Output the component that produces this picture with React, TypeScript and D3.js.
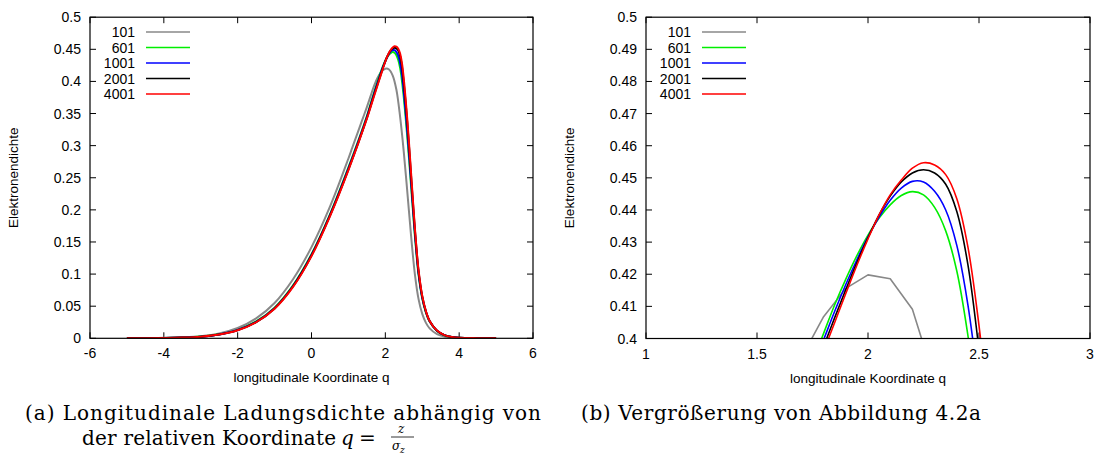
import React from "react";
import * as d3 from "d3";

// ---------- data ----------
const seriesNames = ["101", "601", "1001", "2001", "4001"];
const seriesColors = ["#888888", "#00ee00", "#0000ff", "#000000", "#ff0000"];

// q grid of the fine-sampled series (601, 1001, 2001, 4001)
const qFine = [-5, -4.5, -4, -3.5, -3, -2.5, -2, -1.5, -1, -0.5, 0, 0.5, 1, 1.5, 1.6, 1.7, 1.8, 1.85, 1.9, 1.95, 2.0, 2.05, 2.1, 2.15, 2.2, 2.25, 2.3, 2.35, 2.4, 2.45, 2.5, 2.55, 2.6, 2.65, 2.7, 2.75, 2.8, 2.85, 2.9, 3.0, 3.1, 3.2, 3.4, 3.6, 3.8, 4, 4.5, 5];

const n601 = [0, 0.0002, 0.0005, 0.0012, 0.0027, 0.0062, 0.0132, 0.0262, 0.0478, 0.0825, 0.131, 0.193, 0.266, 0.346, 0.365, 0.3835, 0.4016, 0.4105, 0.4185, 0.4258, 0.4322, 0.4375, 0.4416, 0.4445, 0.4457, 0.4447, 0.4408, 0.4335, 0.421, 0.401, 0.375, 0.344, 0.31, 0.274, 0.235, 0.197, 0.16, 0.127, 0.099, 0.062, 0.04, 0.026, 0.0115, 0.0048, 0.0019, 0.0008, 0.0002, 0];
const n1001 = [0, 0.0002, 0.0005, 0.0012, 0.0026, 0.006, 0.0129, 0.0257, 0.047, 0.0815, 0.1298, 0.1918, 0.2645, 0.3445, 0.363, 0.382, 0.3996, 0.4085, 0.4168, 0.4245, 0.4316, 0.4378, 0.443, 0.4468, 0.4489, 0.4487, 0.4458, 0.44, 0.429, 0.4105, 0.384, 0.352, 0.318, 0.281, 0.241, 0.202, 0.164, 0.13, 0.101, 0.063, 0.041, 0.0265, 0.0118, 0.0049, 0.0019, 0.0008, 0.0002, 0];
const n2001 = [0, 0.0002, 0.0005, 0.0011, 0.0025, 0.0059, 0.0127, 0.0253, 0.0465, 0.081, 0.129, 0.191, 0.263, 0.343, 0.3615, 0.38, 0.3975, 0.4065, 0.4152, 0.4236, 0.4314, 0.4385, 0.4443, 0.4487, 0.4515, 0.4525, 0.4515, 0.448, 0.4395, 0.423, 0.3965, 0.367, 0.331, 0.292, 0.25, 0.209, 0.169, 0.134, 0.104, 0.065, 0.0415, 0.0268, 0.0119, 0.005, 0.002, 0.0008, 0.0002, 0];
const n4001 = [0, 0.0002, 0.0005, 0.0011, 0.0025, 0.0058, 0.0125, 0.025, 0.046, 0.08, 0.128, 0.19, 0.262, 0.342, 0.36, 0.378, 0.396, 0.405, 0.414, 0.4228, 0.431, 0.4385, 0.4447, 0.4493, 0.453, 0.4547, 0.454, 0.451, 0.4435, 0.4285, 0.404, 0.372, 0.337, 0.297, 0.255, 0.213, 0.172, 0.136, 0.106, 0.066, 0.042, 0.027, 0.012, 0.005, 0.002, 0.0008, 0.0002, 0];

// coarse series (101 points, step 0.1 around the peak)
const q101 = [-5, -4.5, -4, -3.5, -3, -2.5, -2, -1.5, -1, -0.5, 0, 0.5, 1, 1.1, 1.2, 1.3, 1.4, 1.5, 1.6, 1.7, 1.8, 1.9, 2.0, 2.1, 2.2, 2.3, 2.4, 2.5, 2.6, 2.7, 2.8, 2.9, 3.0, 3.1, 3.2, 3.4, 3.6, 3.8, 4, 4.5, 5];
const n101 = [0, 0.0003, 0.0007, 0.0015, 0.0033, 0.0075, 0.016, 0.031, 0.055, 0.092, 0.142, 0.205, 0.28, 0.296, 0.312, 0.328, 0.344, 0.36, 0.377, 0.394, 0.4068, 0.4156, 0.4198, 0.4186, 0.4091, 0.387, 0.345, 0.29, 0.225, 0.158, 0.1, 0.061, 0.038, 0.024, 0.0155, 0.0065, 0.0027, 0.0011, 0.0005, 0.0001, 0];

const seriesQ = [q101, qFine, qFine, qFine, qFine];
const seriesV = [n101, n601, n1001, n2001, n4001];

// ticks
const xTicksA = [-6, -4, -2, 0, 2, 4, 6];
const yTicksA = [0, 0.05, 0.1, 0.15, 0.2, 0.25, 0.3, 0.35, 0.4, 0.45, 0.5];
const xTicksB = [1, 1.5, 2, 2.5, 3];
const yTicksB = [0.4, 0.41, 0.42, 0.43, 0.44, 0.45, 0.46, 0.47, 0.48, 0.49, 0.5];

const xLabel = "longitudinale Koordinate q";
const yLabel = "Elektronendichte";

const captionA1 = "(a) Longitudinale Ladungsdichte abhängig von";
const captionA2 = "der relativen Koordinate";
const captionB = "(b) Vergrößerung von Abbildung 4.2a";

const SANS = "'Liberation Sans', Arial, Helvetica, sans-serif";
const SERIF = "'DejaVu Serif', serif";

type PanelProps = {
  id: string;
  left: number;
  right: number;
  top: number;
  bottom: number;
  xDomain: [number, number];
  yDomain: [number, number];
  xTicks: number[];
  yTicks: number[];
  lineWidth: number;
  grayLinear: boolean;
};

function fmt(v: number) {
  return String(+v.toFixed(3));
}

function Panel(p: PanelProps) {
  const x = d3.scaleLinear().domain(p.xDomain).range([p.left, p.right]);
  const y = d3.scaleLinear().domain(p.yDomain).range([p.bottom, p.top]);
  const tick = 6;
  const paths = seriesNames.map((name, i) => {
    const pts: [number, number][] = seriesQ[i].map((q, j) => [q, seriesV[i][j]]);
    const gen = d3
      .line<[number, number]>()
      .x((d) => x(d[0]))
      .y((d) => y(d[1]))
      .curve(i === 0 && p.grayLinear ? d3.curveLinear : d3.curveCatmullRom.alpha(0.5));
    return (
      <path
        key={name}
        d={gen(pts) || ""}
        fill="none"
        stroke={seriesColors[i]}
        strokeWidth={p.lineWidth}
        strokeLinejoin="round"
      />
    );
  });
  const legendTextX = p.left + 45;
  return (
    <g>
      <defs>
        <clipPath id={p.id}>
          <rect x={p.left} y={p.top} width={p.right - p.left} height={p.bottom - p.top} />
        </clipPath>
      </defs>
      {p.xTicks.map((t) => (
        <g key={"x" + t}>
          <line x1={x(t)} x2={x(t)} y1={p.bottom} y2={p.bottom - tick} stroke="#000" strokeWidth={1} />
          <line x1={x(t)} x2={x(t)} y1={p.top} y2={p.top + tick} stroke="#000" strokeWidth={1} />
          <text x={x(t)} y={p.bottom + 20} fontFamily={SANS} fontSize={14} textAnchor="middle">
            {fmt(t)}
          </text>
        </g>
      ))}
      {p.yTicks.map((t) => (
        <g key={"y" + t}>
          <line x1={p.left} x2={p.left + tick} y1={y(t)} y2={y(t)} stroke="#000" strokeWidth={1} />
          <line x1={p.right} x2={p.right - tick} y1={y(t)} y2={y(t)} stroke="#000" strokeWidth={1} />
          <text x={p.left - 9} y={y(t) + 5} fontFamily={SANS} fontSize={14} textAnchor="end">
            {fmt(t)}
          </text>
        </g>
      ))}
      {seriesNames.map((name, i) => {
        const ly = 32 + i * 15.5;
        return (
          <g key={"leg" + name}>
            <text x={legendTextX} y={ly + 5} fontFamily={SANS} fontSize={14} textAnchor="end">
              {name}
            </text>
            <line x1={p.left + 56} x2={p.left + 100} y1={ly} y2={ly} stroke={seriesColors[i]} strokeWidth={1.5} />
          </g>
        );
      })}
      <g clipPath={`url(#${p.id})`}>{paths}</g>
      <rect
        x={p.left}
        y={p.top}
        width={p.right - p.left}
        height={p.bottom - p.top}
        fill="none"
        stroke="#000"
        strokeWidth={1.2}
      />
      <text x={(p.left + p.right) / 2} y={p.bottom + 44} fontFamily={SANS} fontSize={13.5} textAnchor="middle">
        {xLabel}
      </text>
      <text
        transform={`translate(${p.left - 72},${(p.top + p.bottom) / 2}) rotate(-90)`}
        fontFamily={SANS}
        fontSize={13.5}
        textAnchor="middle"
      >
        {yLabel}
      </text>
    </g>
  );
}

export default function App() {
  return (
    <svg
      width={1095}
      height={460}
      viewBox="0 0 1095 460"
      style={{ position: "absolute", left: 0, top: 0, background: "#fff" }}
    >
      <rect x={0} y={0} width={1095} height={460} fill="#fff" />
      <Panel
        id="clipA"
        left={90}
        right={533}
        top={17.2}
        bottom={338.3}
        xDomain={[-6, 6]}
        yDomain={[0, 0.5]}
        xTicks={xTicksA}
        yTicks={yTicksA}
        lineWidth={2}
        grayLinear={false}
      />
      <Panel
        id="clipB"
        left={646}
        right={1090}
        top={17.2}
        bottom={338.5}
        xDomain={[1, 3]}
        yDomain={[0.4, 0.5]}
        xTicks={xTicksB}
        yTicks={yTicksB}
        lineWidth={1.6}
        grayLinear={true}
      />
      {/* captions */}
      <text x={25} y={420} fontFamily={SERIF} fontSize={20} textLength={516} lengthAdjust="spacing">
        {captionA1}
      </text>
      <text x={82} y={445} fontFamily={SERIF} fontSize={20} textLength={254} lengthAdjust="spacing">
        {captionA2}
      </text>
      <text x={341} y={445} fontFamily={SERIF} fontSize={20} fontStyle="italic">
        q
      </text>
      <text x={359} y={445} fontFamily={SERIF} fontSize={20}>
        =
      </text>
      <text x={398} y={433} fontFamily={SERIF} fontSize={12} fontStyle="italic">
        z
      </text>
      <line x1={391} x2={414} y1={437} y2={437} stroke="#000" strokeWidth={0.8} />
      <text x={392} y={450} fontFamily={SERIF} fontSize={12} fontStyle="italic">
        σ
      </text>
      <text x={400} y={453} fontFamily={SERIF} fontSize={9} fontStyle="italic">
        z
      </text>
      <text x={581} y={420} fontFamily={SERIF} fontSize={20} textLength={400} lengthAdjust="spacing">
        {captionB}
      </text>
    </svg>
  );
}
